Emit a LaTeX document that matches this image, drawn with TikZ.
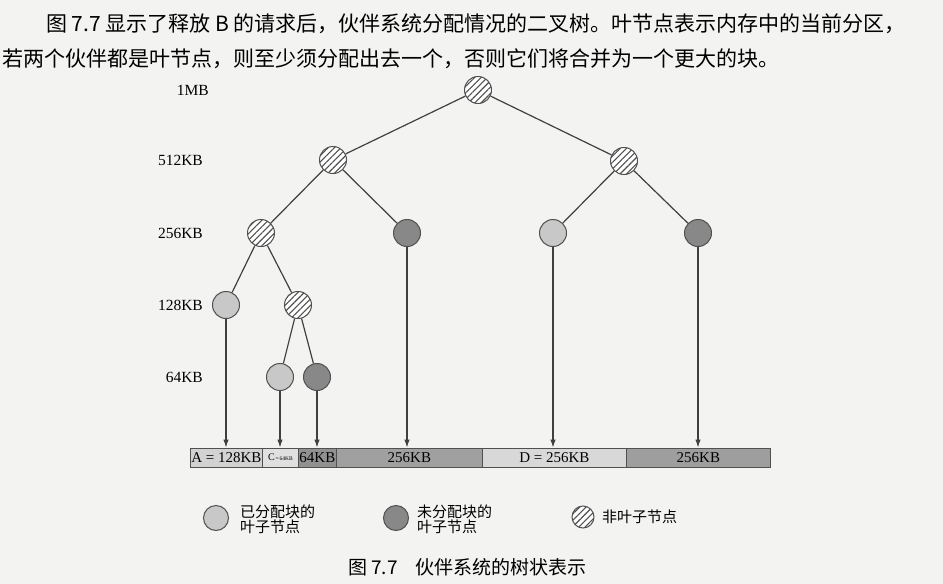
\documentclass[tikz,border=0pt]{standalone}
\usepackage{fontspec}
\setmainfont{Liberation Serif}
\newfontfamily\cjk{Noto Sans CJK SC}
\usetikzlibrary{patterns.meta,arrows.meta}

\definecolor{sfondo}{RGB}{243,243,241}
\definecolor{chiaro}{RGB}{200,200,200}
\definecolor{scuro}{RGB}{136,136,136}
\definecolor{bordo}{RGB}{80,80,80}

\tikzset{
  nodo/.style={circle, draw=bordo, line width=1pt, minimum size=27pt, inner sep=0pt},
  occupato/.style={nodo, fill=chiaro},
  libero/.style={nodo, fill=scuro},
  interno/.style={nodo, preaction={fill=white},
    pattern={Lines[angle=45,distance=4.5pt,line width=1.1pt]}, pattern color=bordo},
  ramo/.style={draw=bordo!80!black, line width=1.2pt},
  freccia/.style={ramo, -{Latex[length=8pt,width=5.5pt]}},
  livello/.style={anchor=east, inner sep=0pt, font=\fontsize{15.5}{15.5}\selectfont},
  segmento/.style={draw=bordo, line width=0.8pt, minimum height=19pt, inner sep=0pt,
    anchor=west, font=\fontsize{15}{15}\selectfont},
  testo/.style={anchor=west, inner sep=0pt, align=left},
}

\begin{document}
\begin{tikzpicture}[x=1pt,y=-1pt]
    \fill[sfondo] (0,0) rectangle (943,584);
    \useasboundingbox (0,0) rectangle (943,584);

    % Paragrafo
    \node[testo, font=\cjk\fontsize{21}{21}\selectfont] (riga1) at (46,24)
        {图 7.7 显示了释放 B 的请求后，伙伴系统分配情况的二叉树。叶节点表示内存中的当前分区，};
    \node[testo, font=\cjk\fontsize{21}{21}\selectfont] (riga2) at (2,59)
        {若两个伙伴都是叶节点，则至少须分配出去一个，否则它们将合并为一个更大的块。};

    % Nodi
    \node[interno] (r) at (478,90) {};
    \node[interno] (s) at (333,160) {};
    \node[interno] (d) at (624,161) {};
    \node[interno] (ss) at (261,233) {};
    \node[libero] (sd) at (407,233) {};
    \node[occupato] (ds) at (553,233) {};
    \node[libero] (dd) at (698,233) {};
    \node[occupato] (sss) at (226,305) {};
    \node[interno] (ssd) at (298,305) {};
    \node[occupato] (ssds) at (280,377) {};
    \node[libero] (ssdd) at (317,377) {};

    % Rami
    \draw[ramo] (r) -- (s);
    \draw[ramo] (r) -- (d);
    \draw[ramo] (s) -- (ss);
    \draw[ramo] (s) -- (sd);
    \draw[ramo] (d) -- (ds);
    \draw[ramo] (d) -- (dd);
    \draw[ramo] (ss) -- (sss);
    \draw[ramo] (ss) -- (ssd);
    \draw[ramo] (ssd) -- (ssds);
    \draw[ramo] (ssd) -- (ssdd);

    % Livelli
    \node[livello] (l1) at (209,90) {1MB};
    \node[livello] (l2) at (203,160) {512KB};
    \node[livello] (l3) at (203,233) {256KB};
    \node[livello] (l4) at (203,305) {128KB};
    \node[livello] (l5) at (203,377) {64KB};

    % Barra della memoria
    \node[segmento, fill={rgb,255:red,210;green,210;blue,210}, minimum width=72pt] (bA) at (190,457.5) {A = 128KB};
    \node[segmento, fill={rgb,255:red,224;green,224;blue,224}, minimum width=36pt] (bC) at (262,457.5)
        {{\fontsize{10}{10}\selectfont C}{\fontsize{5.5}{5.5}\selectfont\,=\,64KB}};
    \node[segmento, fill={rgb,255:red,145;green,145;blue,145}, minimum width=38pt] (bE) at (298,457.5) {64KB};
    \node[segmento, fill={rgb,255:red,160;green,160;blue,160}, minimum width=146pt] (bF) at (336,457.5) {256KB};
    \node[segmento, fill={rgb,255:red,216;green,216;blue,216}, minimum width=144pt] (bD) at (482,457.5) {D = 256KB};
    \node[segmento, fill={rgb,255:red,158;green,158;blue,158}, minimum width=144pt] (bG) at (626,457.5) {256KB};

    % Frecce
    \draw[freccia] (sss) -- (sss |- bA.north);
    \draw[freccia] (ssds) -- (ssds |- bC.north);
    \draw[freccia] (ssdd) -- (ssdd |- bE.north);
    \draw[freccia] (sd) -- (sd |- bF.north);
    \draw[freccia] (ds) -- (ds |- bD.north);
    \draw[freccia] (dd) -- (dd |- bG.north);

    % Legenda
    \node[occupato, minimum size=25pt] (leg1) at (216,518) {};
    \node[testo, font=\cjk\fontsize{15}{15}\selectfont] (legt1) at (240,519) {已分配块的\\叶子节点};
    \node[libero, minimum size=25pt] (leg2) at (396,518) {};
    \node[testo, font=\cjk\fontsize{15}{15}\selectfont] (legt2) at (417,519) {未分配块的\\叶子节点};
    \node[interno, minimum size=22pt] (leg3) at (583,517) {};
    \node[testo, font=\cjk\fontsize{15}{15}\selectfont] (legt3) at (602,517) {非叶子节点};

    % Didascalia
    \node[testo, font=\cjk\fontsize{19}{19}\selectfont] (didascalia) at (348,567)
        {图 7.7\hspace{18pt}伙伴系统的树状表示};
\end{tikzpicture}
\end{document}
